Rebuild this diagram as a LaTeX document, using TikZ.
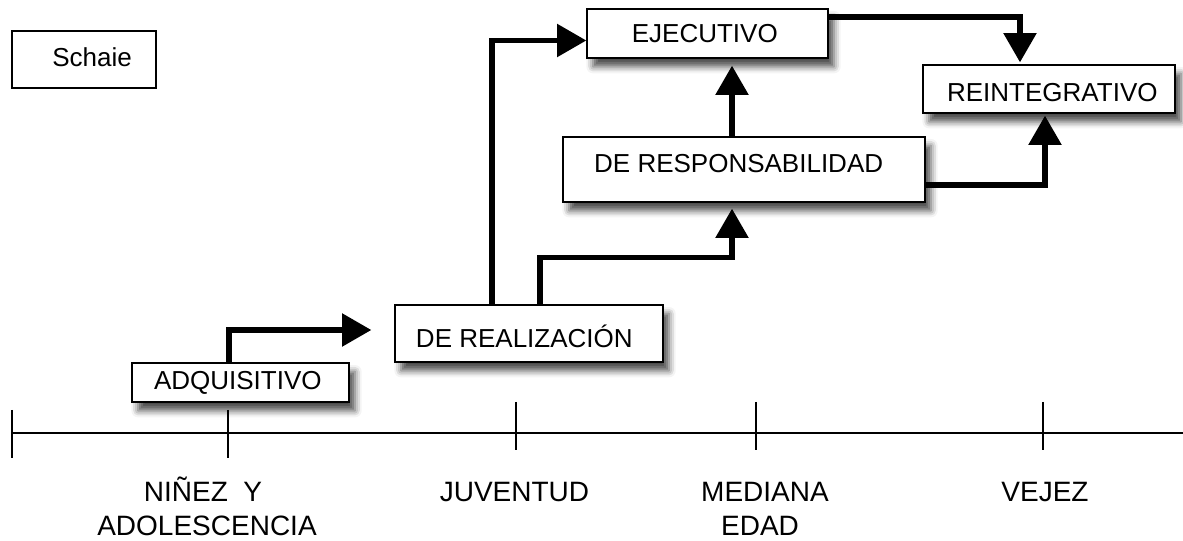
\documentclass[tikz,border=0pt]{standalone}
\usepackage{fontspec}
\setmainfont{Liberation Sans}
\usetikzlibrary{arrows.meta,calc,shadows.blur}
\begin{document}
\begin{tikzpicture}[x=0.75pt,y=-0.75pt,
  sz/.style 2 args={minimum width=#1*0.75pt, minimum height=#2*0.75pt},
  box/.style={draw, line width=0.95pt, fill=white, inner sep=0pt, font=\fontsize{19.5pt}{22pt}\selectfont, text height=14pt, text depth=0pt},
  shbox/.style={box, blur shadow={shadow xshift=4.5pt, shadow yshift=-6.5pt, shadow blur radius=5pt, shadow opacity=70}},
  arr/.style={line width=4.2pt, line join=miter, -{Triangle[length=22pt,width=24pt]}},
  tl/.style={font=\fontsize{21pt}{24pt}\selectfont, inner sep=0pt, anchor=base},
  axis/.style={line width=1pt}]
\useasboundingbox (0,0) rectangle (1183,541);

% boxes
\node[box, sz={144}{57}, text depth=3.75pt] (schaie) at (84,59.5) {\hspace*{12pt}Schaie};
\node[shbox, sz={217}{39}, text depth=3.75pt] (adq) at (240.5,382.5) {ADQUISITIVO\hspace*{4pt}};
\node[shbox, sz={268}{57}, text height=20.75pt] (real) at (529,333.5) {DE REALIZACIÓN\hspace*{7pt}};
\node[shbox, sz={241}{49}] (ejec) at (707.5,33.5) {EJECUTIVO\hspace*{4pt}};
\node[shbox, sz={362}{65}, text depth=9.75pt] (resp) at (744,169.5) {DE RESPONSABILIDAD\hspace*{8pt}};
\node[shbox, sz={252}{48}, text height=18.5pt] (reint) at (1049,89) {\hspace*{5pt}REINTEGRATIVO};

% connectors
\draw[arr] ($(adq.north)+(-11.5,0)$) |- ($(real.west)+(-23,-3.5)$);
\draw[arr] ($(real.north)+(-37,0)$) |- ($(ejec.west)+(0,7)$);
\draw[arr] ($(real.north)+(11,0)$) -- ++(0,-47) -| ($(resp.south)+(-12,6)$);
\draw[arr] ($(resp.north)+(-12,0)$) -- ($(ejec.south)+(24.5,7)$);
\draw[arr] ($(ejec.east)+(0,-16.5)$) -| ($(reint.north)+(-29,-2)$);
\draw[arr] ($(resp.east)+(0,15.5)$) -| ($(reint.south)+(-4,2)$);

% timeline
\coordinate (ax0) at (12,433);
\coordinate (ax1) at (1183,433);
\draw[axis] (ax0) -- (ax1);
\draw[axis] (12,410) -- (12,458);
\draw[axis] (228,410) -- (228,458);
\draw[axis] (516,402) -- (516,450);
\draw[axis] (756,402) -- (756,450);
\draw[axis] (1043,402) -- (1043,450);

\node[tl] (ninez) at (203,502) {NIÑEZ\ \ Y};
\node[tl] (adol) at (207,536) {ADOLESCENCIA};
\node[tl] (juv) at (514.5,502) {JUVENTUD};
\node[tl] (med) at (765,502) {MEDIANA};
\node[tl] (edad) at (760,536) {EDAD};
\node[tl] (vej) at (1045,502) {VEJEZ};
\end{tikzpicture}
\end{document}
